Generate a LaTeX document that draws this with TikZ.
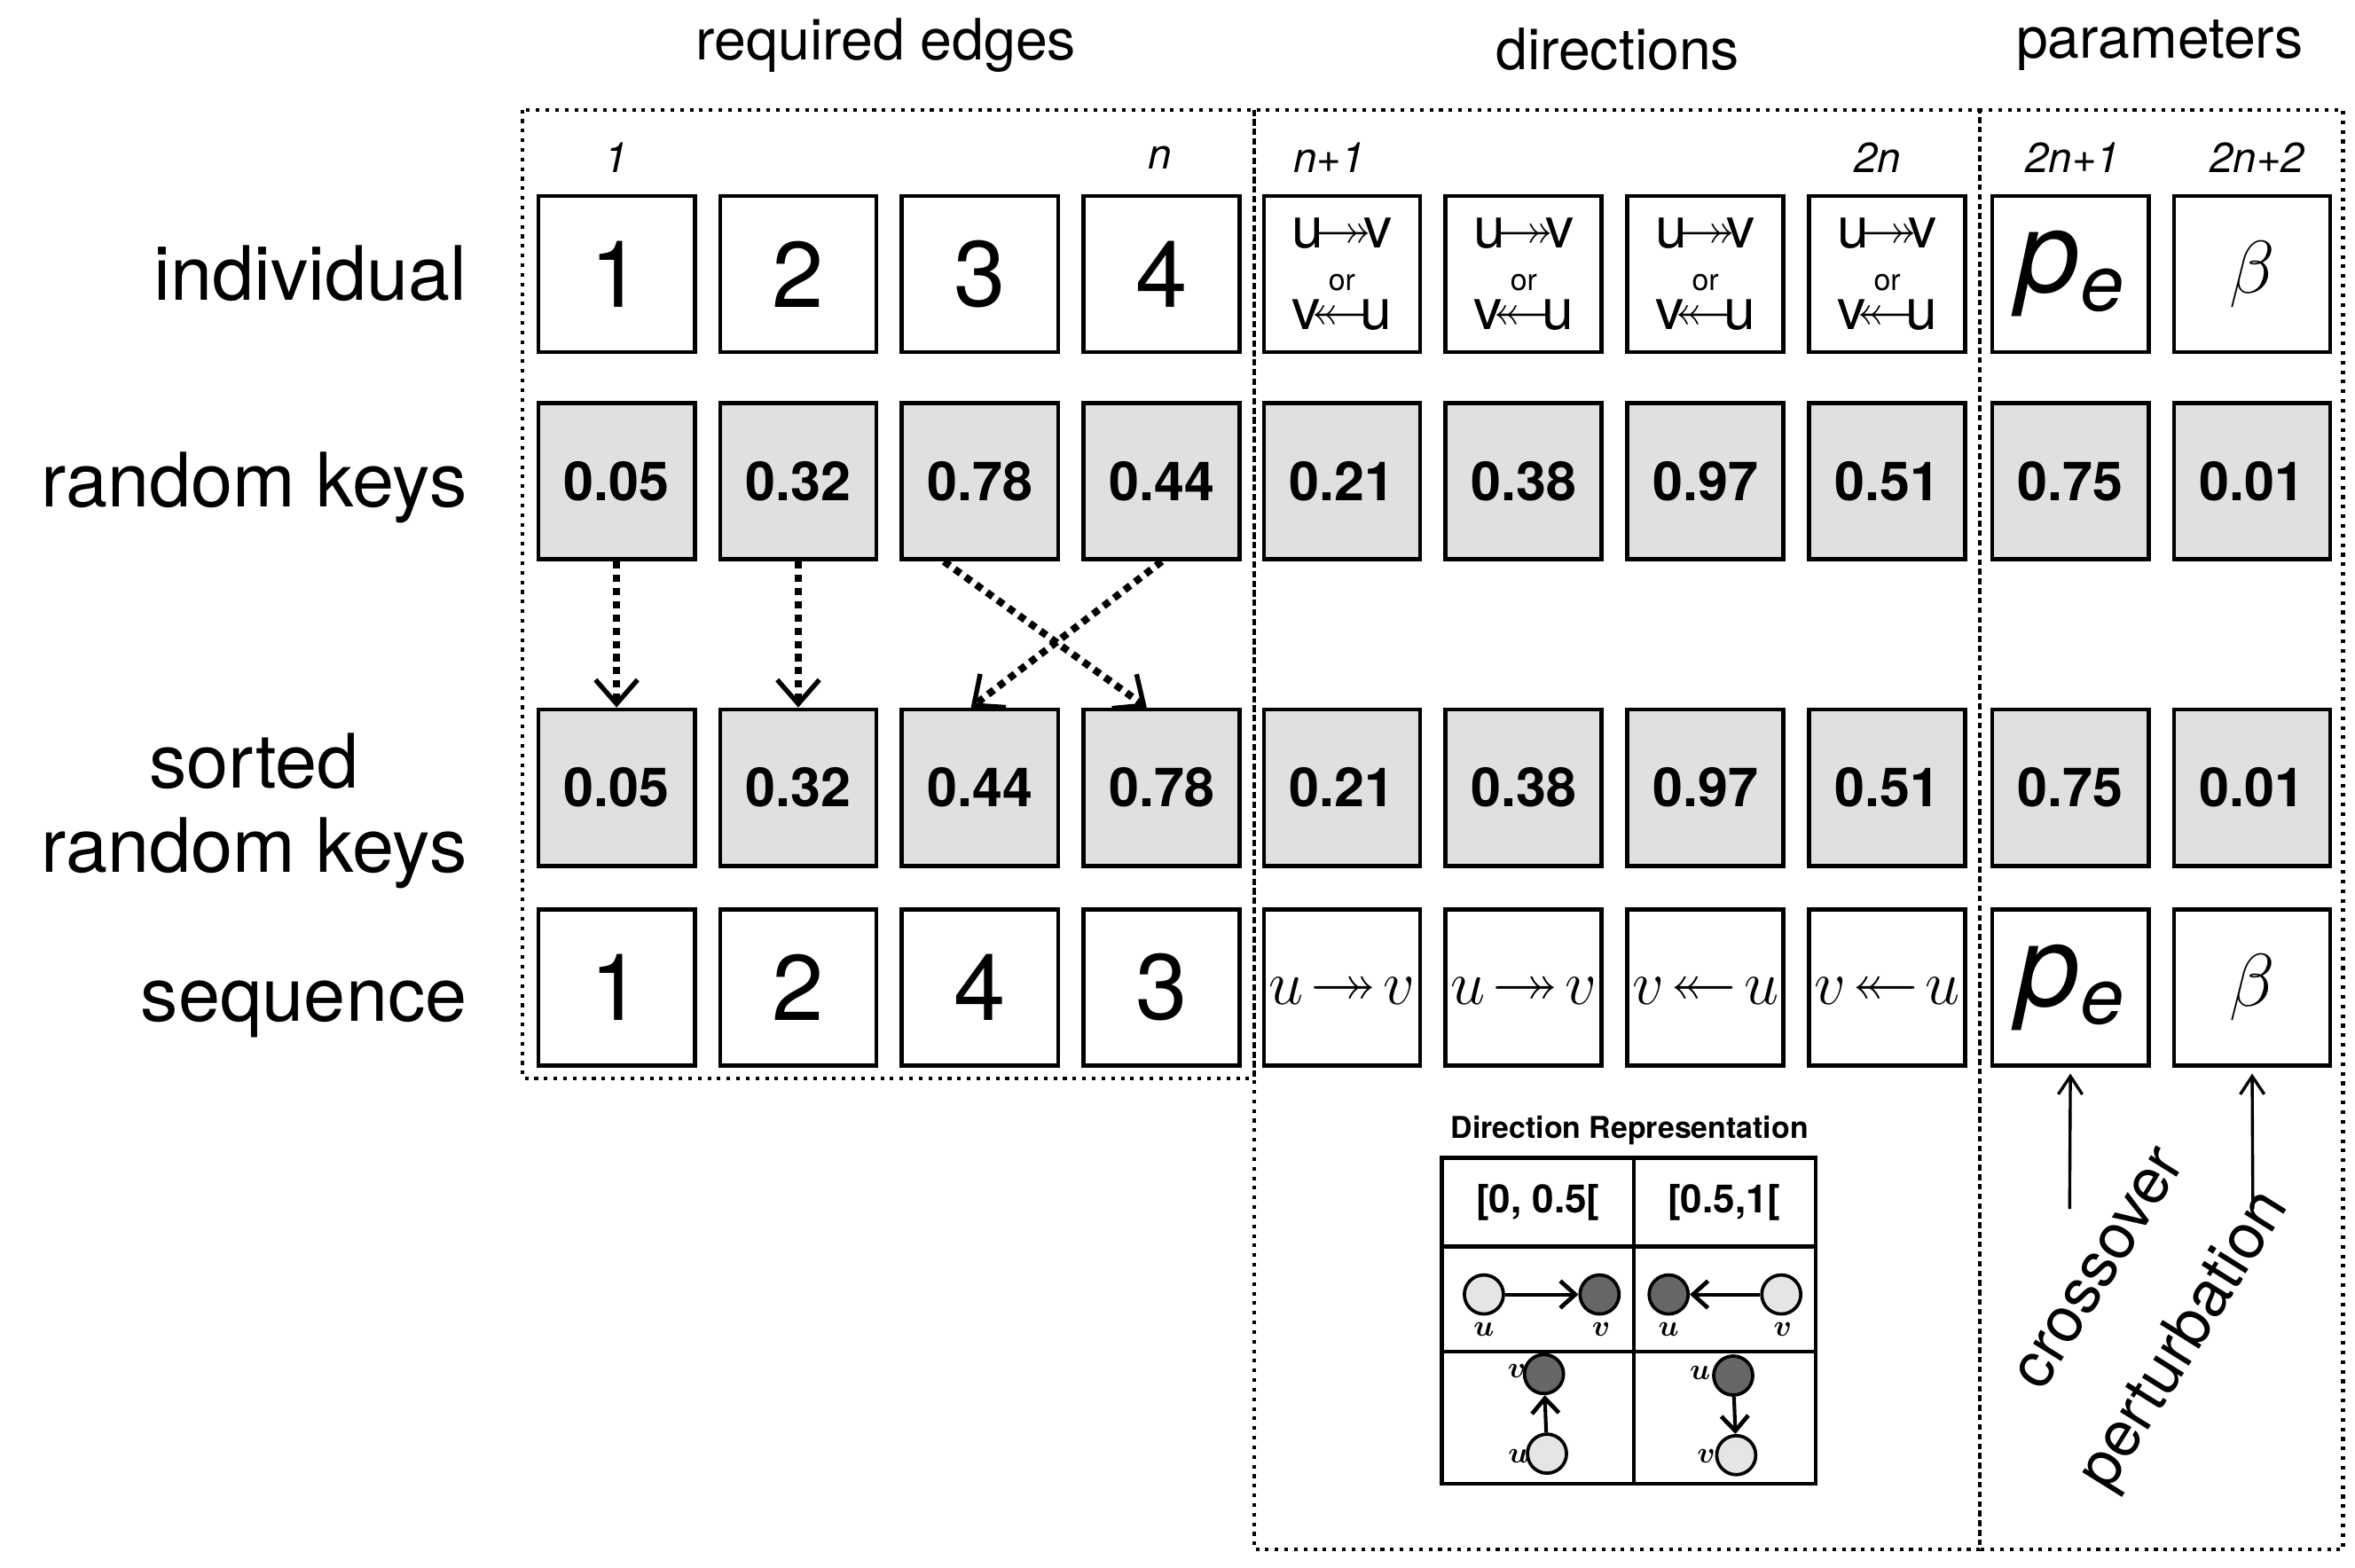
\documentclass[tikz,border=0pt]{standalone}
\usepackage{amsmath,amssymb}
\usepackage{fontspec}
\setmainfont{TeX Gyre Heros}
\usetikzlibrary{arrows.meta}
\newcommand{\pe}{{\fontsize{38}{38}\selectfont\itshape p}\raisebox{-6pt}{\fontsize{26}{26}\selectfont\itshape e}}
\newcommand{\bt}{{\fontsize{34}{34}\selectfont$\beta$}}
\begin{document}
\begin{tikzpicture}[x=0.5pt,y=-0.5pt,
 box/.style={draw,line width=1.4pt,minimum size=52pt,inner sep=0pt},
 key/.style={box,fill=black!12,font=\fontsize{18}{18}\selectfont\bfseries},
 big/.style={box,font=\fontsize{31}{31}\selectfont},
 dirc/.style={box,font=\fontsize{22}{22}\selectfont},
 lab/.style={anchor=east,font=\fontsize{25}{28}\selectfont,align=right},
 hdr/.style={font=\fontsize{19}{19}\selectfont},
 idx/.style={font=\fontsize{14}{14}\selectfont\itshape},
 dots/.style={dotted,line width=1.2pt},
 darr/.style={dotted,line width=2.4pt,-{Straight Barb[length=8pt,width=14pt,line width=1.6pt]}},
 circL/.style={circle,draw,line width=1.1pt,fill=black!10,minimum size=13pt,inner sep=0pt},
 circD/.style={circle,draw,line width=1.1pt,fill=black!60,minimum size=13pt,inner sep=0pt},
 sm/.style={font=\fontsize{10}{10}\selectfont,inner sep=1pt}]
\useasboundingbox (0,0) rectangle (1568,1044);
% frames
\draw[dots] (348,73) rectangle (835,718);
\draw[dots] (835,73) rectangle (1318,1032);
\draw[dots] (1318,73) rectangle (1560,1032);
\node[hdr] (h1) at (590,30) {required edges};
\node[hdr] (h2) at (1077,33) {directions};
\node[hdr] (h3) at (1438,30) {parameters};
\node[idx] (i1) at (410,105) {1};
\node[idx] (i2) at (772,105) {n};
\node[idx] (i3) at (885,105) {n+1};
\node[idx] (i4) at (1250,105) {2n};
\node[idx] (i5) at (1380,105) {2n+1};
\node[idx] (i6) at (1503,105) {2n+2};
% row labels
\node[lab] (l1) at (318,182) {individual};
\node[lab] (l2) at (318,325) {random keys};
\node[lab,align=center] (l3) at (318,540) {sorted\\random keys};
\node[lab] (l4) at (318,672) {sequence};
% individual
\foreach \x/\t [count=\i] in {410.5/1,531.5/2,652.5/3,773.5/4}
  \node[big] (a\i) at (\x,182.5) {\t};
\foreach \x [count=\i from 5] in {893.5,1014.5,1135.5,1256.5}
  \node[box,align=center] (a\i) at (\x,182.5) {\fontsize{19}{19}\selectfont u$\!\twoheadrightarrow\!$v\\[2pt]\fontsize{10}{10}\selectfont or\\[1pt]\fontsize{19}{19}\selectfont v$\!\twoheadleftarrow\!$u};
\node[box] (a9) at (1378.5,182.5) {\pe};
\node[box] (a10) at (1499.5,182.5) {\bt};
% random keys
\foreach \x/\t [count=\i] in {410.5/0.05,531.5/0.32,652.5/0.78,773.5/0.44,893.5/0.21,1014.5/0.38,1135.5/0.97,1256.5/0.51,1378.5/0.75,1499.5/0.01}
  \node[key] (b\i) at (\x,320.5) {\t};
\foreach \x/\t [count=\i] in {410.5/0.05,531.5/0.32,652.5/0.44,773.5/0.78,893.5/0.21,1014.5/0.38,1135.5/0.97,1256.5/0.51,1378.5/0.75,1499.5/0.01}
  \node[key] (c\i) at (\x,524.5) {\t};
% sequence
\foreach \x/\t [count=\i] in {410.5/1,531.5/2,652.5/4,773.5/3}
  \node[big] (d\i) at (\x,657.5) {\t};
\node[dirc] (d5) at (893.5,657.5) {$u\!\twoheadrightarrow\! v$};
\node[dirc] (d6) at (1014.5,657.5) {$u\!\twoheadrightarrow\! v$};
\node[dirc] (d7) at (1135.5,657.5) {$v\!\twoheadleftarrow\! u$};
\node[dirc] (d8) at (1256.5,657.5) {$v\!\twoheadleftarrow\! u$};
\node[box] (d9) at (1378.5,657.5) {\pe};
\node[box] (d10) at (1499.5,657.5) {\bt};
% sort arrows
\draw[darr] (b1.south) -- (c1.north);
\draw[darr] (b2.south) -- (c2.north);
\draw[darr] ([xshift=-12]b3.south) -- ([xshift=-5]c4.north);
\draw[darr] (b4.south) -- ([xshift=-3]c3.north);
% direction representation
\node[font=\fontsize{10}{10}\selectfont\bfseries] (dr) at (1085,753) {Direction Representation};
\draw[line width=1.3pt] (960,771) rectangle (1209,988);
\draw[line width=1.3pt] (1088,771) -- (1088,988) (960,830) -- (1209,830) (960,900) -- (1209,900);
\node[font=\fontsize{13}{13}\selectfont\bfseries] (r1) at (1024,801) {[0, 0.5[};
\node[font=\fontsize{13}{13}\selectfont\bfseries] (r2) at (1148,801) {[0.5,1[};
\node[circL] (u1) at (988,862) {};
\node[circD] (v1) at (1065,862) {};
\draw[line width=1.2pt,-{Straight Barb[length=5pt,width=9pt,line width=1.4pt]}] (u1) -- (v1);
\node[sm] at (988,885) {$\boldsymbol{u}$};
\node[sm] at (1066,885) {$\boldsymbol{v}$};
\node[circD] (u2) at (1111,862) {};
\node[circL] (v2) at (1186,862) {};
\draw[line width=1.2pt,-{Straight Barb[length=5pt,width=9pt,line width=1.4pt]}] (v2) -- (u2);
\node[sm] at (1111,885) {$\boldsymbol{u}$};
\node[sm] at (1187,885) {$\boldsymbol{v}$};
\node[circD] (v3) at (1028,915) {};
\node[circL] (u3) at (1030,968) {};
\draw[line width=1.2pt,-{Straight Barb[length=5pt,width=9pt,line width=1.4pt]}] (u3) -- (v3);
\node[sm] at (1010,913) {$\boldsymbol{v}$};
\node[sm] at (1011,970) {$\boldsymbol{u}$};
\node[circD] (u4) at (1154,916) {};
\node[circL] (v4) at (1156,969) {};
\draw[line width=1.2pt,-{Straight Barb[length=5pt,width=9pt,line width=1.4pt]}] (u4) -- (v4);
\node[sm] at (1132,914) {$\boldsymbol{u}$};
\node[sm] at (1136,970) {$\boldsymbol{v}$};
% operators
\coordinate (co) at (1378,805);
\coordinate (pe) at (1500,805);
\draw[line width=1pt,-{Straight Barb[length=6pt,width=8pt]}] (co) -- ([yshift=-2pt]d9.south);
\draw[line width=1pt,-{Straight Barb[length=6pt,width=8pt]}] (pe) -- ([yshift=-2pt]d10.south);
\node[rotate=58,font=\fontsize{21}{21}\selectfont] (cx) at (1398,845) {crossover};
\node[rotate=58,font=\fontsize{21}{21}\selectfont] (pt) at (1455,893) {perturbation};
\end{tikzpicture}
\end{document}
